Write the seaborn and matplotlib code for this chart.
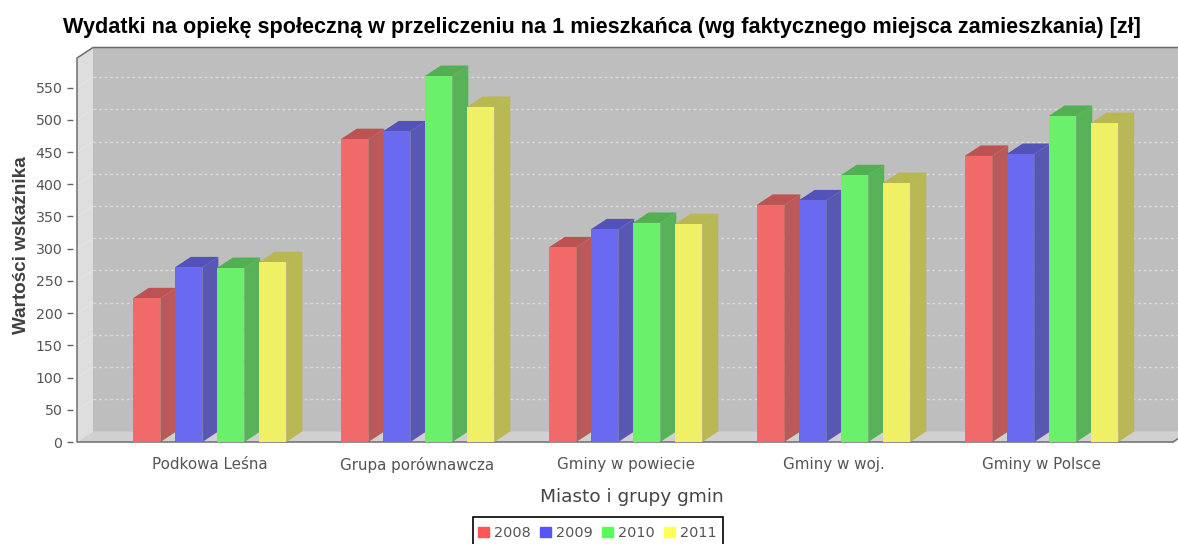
import pandas as pd
import matplotlib
matplotlib.use('Agg')
import matplotlib.pyplot as plt
from matplotlib.patches import Polygon, Patch, Rectangle
import seaborn as sns

# -------------------------
# Data
# -------------------------
groups = ['Podkowa Leśna', 'Grupa porównawcza', 'Gminy w powiecie', 'Gminy w woj.', 'Gminy w Polsce']
years = ['2008', '2009', '2010', '2011']
v2008 = [223, 470, 302, 368, 444]
v2009 = [271, 482, 330, 375, 447]
v2010 = [270, 568, 340, 414, 506]
v2011 = [279, 520, 338, 402, 495]

front_colors = ['#F06A6A', '#6A6AF0', '#6AF06A', '#F0F064']
side_colors = ['#B85A5A', '#5858B4', '#58B258', '#B8B855']
top_colors = ['#BC5252', '#5252B8', '#52B052', '#B8B852']
legend_colors = ['#FF5555', '#5555FF', '#55FF55', '#FFFF55']

df = pd.DataFrame({'grupa': groups, '2008': v2008, '2009': v2009, '2010': v2010, '2011': v2011})
df = df.melt(id_vars='grupa', var_name='rok', value_name='wartosc')

# -------------------------
# Figure, one axes on the front plane
# -------------------------
sns.set_style('white')
plt.rcParams['font.family'] = ['DejaVu Sans']
W, H = 1178, 544
fig = plt.figure(figsize=(W / 100, H / 100), dpi=100)
ax = fig.add_axes([77 / W, 1 - 442 / H, (1173 - 77) / W, (442 - 58) / H])

sns.barplot(data=df, x='grupa', y='wartosc', hue='rok', order=groups, hue_order=years,
            palette=front_colors, saturation=1, width=0.8077, gap=0.345, legend=False,
            linewidth=0, ax=ax)

xmin, xmax = -0.6375, 4.6325
ymax = 596
ax.set_xlim(xmin, xmax)
ax.set_ylim(0, ymax)
ax.set_yticks(range(0, 551, 50))

# 3D depth in pixels, converted to data units
px_x = (xmax - xmin) / (1173 - 77)
px_y = ymax / (442 - 58)
dx = 16 * px_x
dy = 10.5 * px_y

# -------------------------
# Walls and floor
# -------------------------
far_right = xmax + dx
ax.add_patch(Polygon([(xmin + dx, dy), (far_right, dy), (far_right, ymax + dy), (xmin + dx, ymax + dy)],
                     closed=True, fc='#BEBEBE', ec='none', zorder=0, clip_on=False))
ax.add_patch(Polygon([(xmin, 0), (xmin, ymax), (xmin + dx, ymax + dy), (xmin + dx, dy)],
                     closed=True, fc='#DEDEDE', ec='none', zorder=0.5, clip_on=False))
ax.add_patch(Polygon([(xmin, 0), (xmax, 0), (far_right, dy), (xmin + dx, dy)],
                     closed=True, fc='#D0D0D0', ec='none', zorder=0.5, clip_on=False))

for v in ax.get_yticks()[1:]:
    ax.plot([xmin + dx, far_right], [v + dy, v + dy], color='#DADADA', lw=1, ls=(0, (2, 2)),
            zorder=0.4, clip_on=False)
    ax.plot([xmin, xmin + dx], [v, v + dy], color='#E4E4E4', lw=0.8, zorder=0.6, clip_on=False)

# outline
outline = '#6E6E6E'
ax.plot([xmax, xmin, xmin, xmin + dx, far_right], [0, 0, ymax, ymax + dy, ymax + dy], color=outline,
        lw=1.1, zorder=1, clip_on=False)
ax.plot([xmax, far_right], [0, dy], color=outline, lw=1.1, zorder=1, clip_on=False)

# -------------------------
# Side and top faces of the bars
# -------------------------
for i, cont in enumerate(ax.containers):
    for bar in cont:
        x0 = bar.get_x()
        x1 = x0 + bar.get_width()
        h = bar.get_height()
        z = 2 + x0
        bar.set_zorder(z + 0.002)
        ax.add_patch(Polygon([(x1, 0), (x1 + dx, dy), (x1 + dx, h + dy), (x1, h)], closed=True,
                             fc=side_colors[i], ec='none', zorder=z, clip_on=False))
        ax.add_patch(Polygon([(x0, h), (x1, h), (x1 + dx, h + dy), (x0 + dx, h + dy)], closed=True,
                             fc=top_colors[i], ec='none', zorder=z + 0.001, clip_on=False))

# -------------------------
# Axes text
# -------------------------
sns.despine(ax=ax, left=True, bottom=True, top=True, right=True)
ax.spines['left'].set_position(('outward', 3))
ax.tick_params(axis='y', length=4, width=1, color='#666666', labelcolor='#555555', labelsize=10.2, pad=3.5, left=True)
ax.tick_params(axis='x', length=0, labelcolor='#555555', labelsize=10.9, pad=11)

ax.set_xlabel('Miasto i grupy gmin', fontsize=13.3, color='#444444', labelpad=10.5, x=0.5064)
ax.set_ylabel('Wartości wskaźnika', fontsize=13.6, color='#404040', family='Liberation Sans', fontweight='bold',
              labelpad=4, y=0.512)
fig.text(602 / W, 1 - 27 / H, 'Wydatki na opiekę społeczną w przeliczeniu na 1 mieszkańca (wg faktycznego miejsca zamieszkania) [zł]',
         fontsize=15.6, fontweight='bold', family='Liberation Sans', color='black', ha='center', va='center')

# legend box runs off the bottom edge, as in the original image
fig.add_artist(Rectangle((473 / W, 1 - 549 / H), 250 / W, 32 / H, transform=fig.transFigure,
                         fc='white', ec='black', lw=1.2))
handles = [Patch(color=c, label=y) for c, y in zip(legend_colors, years)]
leg = fig.legend(handles=handles, ncol=4, loc='center left', bbox_to_anchor=(473 / W, 1 - 533 / H),
                 bbox_transform=fig.transFigure, frameon=False,
                 fontsize=10.4, labelcolor='#555555', handlelength=0.75, handleheight=0.75,
                 handletextpad=0.35, columnspacing=0.65, borderpad=0.35, borderaxespad=0)
leg.set_zorder(5)

plt.savefig('out.png', dpi=100)
